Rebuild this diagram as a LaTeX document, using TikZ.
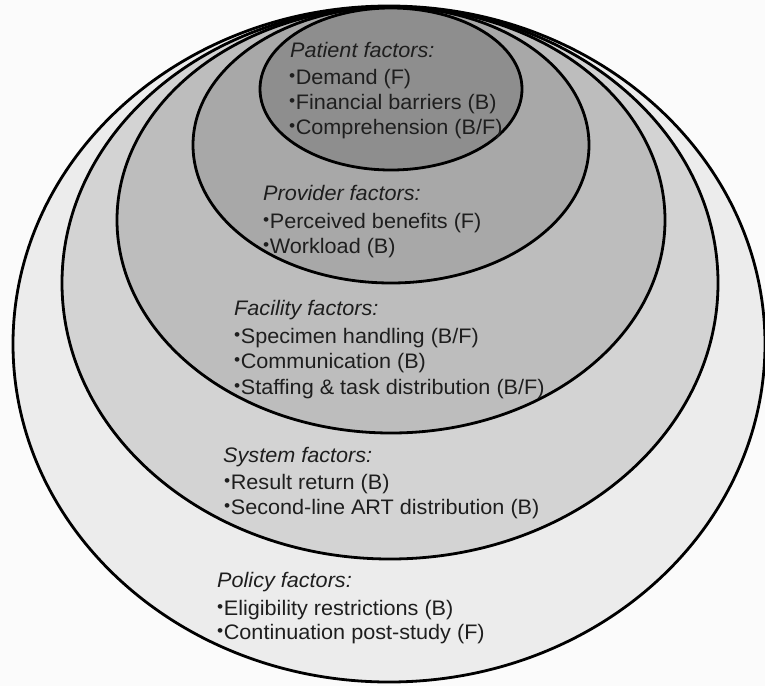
\documentclass[tikz,border=0pt]{standalone}
\usepackage{fontspec}
\setmainfont{Liberation Sans}[FakeStretch=1.03]
\definecolor{bg}{HTML}{FBFBFB}
\definecolor{policyc}{HTML}{ECECEC}
\definecolor{systemc}{HTML}{D3D3D3}
\definecolor{facilityc}{HTML}{BDBDBD}
\definecolor{providerc}{HTML}{A8A8A8}
\definecolor{patientc}{HTML}{8E8E8E}
\definecolor{txt}{HTML}{1E1E1E}
\newcommand{\bu}{{\fontsize{17}{17}\selectfont\raisebox{0.13em}{\textbullet}}\hspace{0.5pt}}
\begin{document}
\begin{tikzpicture}[x=1pt,y=-1pt,
  ring/.style={draw=black, line width=2.8pt},
  lbl/.style={anchor=base west, inner sep=0pt, text=txt, font=\fontsize{21}{24}\selectfont},
  ttl/.style={lbl, font=\fontsize{21}{24}\selectfont\itshape}]
\useasboundingbox[fill=bg] (0,0) rectangle (765,686);
% rings
\path[ring, fill=policyc]   (389,344) ellipse [x radius=376, y radius=338];
\path[ring, fill=systemc]   (390,283) ellipse [x radius=328, y radius=276];
\path[ring, fill=facilityc] (391,220) ellipse [x radius=274, y radius=213];
\path[ring, fill=providerc] (391,145) ellipse [x radius=198, y radius=138];
\path[ring, fill=patientc]  (391,89)  ellipse [x radius=131, y radius=81];
% patient
\node[ttl] (pat0) at (290,57)  {Patient factors:};
\node[lbl] (pat1) at (289,84)  {\bu Demand (F)};
\node[lbl] (pat2) at (289,109) {\bu Financial barriers (B)};
\node[lbl] (pat3) at (289,134) {\bu Comprehension (B/F)};
% provider
\node[ttl] (pro0) at (263,200) {Provider factors:};
\node[lbl] (pro1) at (263,228) {\bu Perceived benefits (F)};
\node[lbl] (pro2) at (263,253) {\bu Workload (B)};
% facility
\node[ttl] (fac0) at (234,315) {Facility factors:};
\node[lbl] (fac1) at (234,343) {\bu Specimen handling (B/F)};
\node[lbl] (fac2) at (234,368) {\bu Communication (B)};
\node[lbl] (fac3) at (234,394) {\bu Staffing \& task distribution (B/F)};
% system
\node[ttl] (sys0) at (223,462) {System factors:};
\node[lbl] (sys1) at (224,489) {\bu Result return (B)};
\node[lbl] (sys2) at (224,514) {\bu Second-line ART distribution (B)};
% policy
\node[ttl] (pol0) at (217,587) {Policy factors:};
\node[lbl] (pol1) at (217,615) {\bu Eligibility restrictions (B)};
\node[lbl] (pol2) at (217,639) {\bu Continuation post-study (F)};
\end{tikzpicture}
\end{document}
